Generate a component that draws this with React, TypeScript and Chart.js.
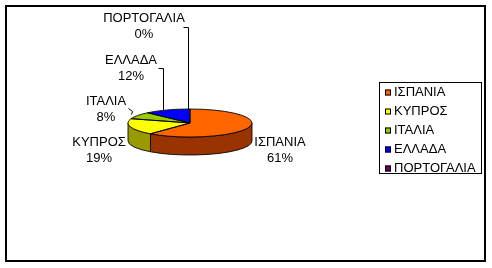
import React, { useEffect, useRef } from 'react';
import { Chart, registerables } from 'chart.js';

Chart.register(...registerables);

// ---- data ----
const categories = ['ΙΣΠΑΝΙΑ', 'ΚΥΠΡΟΣ', 'ΙΤΑΛΙΑ', 'ΕΛΛΑΔΑ', 'ΠΟΡΤΟΓΑΛΙΑ'];
const shares = [61, 19, 8, 12, 0];
const percentLabels = ['61%', '19%', '8%', '12%', '0%'];

// ---- styles ----
const topColors = ['#FF6600', '#FFFF00', '#99CC00', '#0000FF', '#660066'];
const sideColors = ['#993300', '#999900', '#5C7A00', '#000099', '#3D003D'];
const FONT = '13px "Liberation Sans", Arial, sans-serif';
const TILT = 14 / 62;
const DEPTH = 18;

// label placement relative to pie centre (first line centre)
const labelOffsets = [
  { dx: 90, dy: 19 },
  { dx: -91, dy: 19 },
  { dx: -84, dy: -22 },
  { dx: -59, dy: -63 },
  { dx: -46, dy: -105 },
];
// leader lines relative to pie centre
const leaderLines: Array<Array<[number, number]>> = [
  [],
  [],
  [[-62, -15], [-58, -12], [-59, -9]],
  [[-32, -55], [-27, -55], [-27, -13]],
  [[-7, -96], [-2, -96], [-2, -14]],
];

const pie3d = {
  id: 'pie3d',
  beforeDatasetsDraw(chart: any) {
    const ctx = chart.ctx;
    const arcs = chart.getDatasetMeta(0).data as any[];
    if (!arcs.length) return;
    const cx = arcs[0].x, cy = arcs[0].y, rx = arcs[0].outerRadius, ry = rx * TILT;
    ctx.save();
    arcs.forEach((arc: any, i: number) => {
      const a1 = Math.max(arc.startAngle, 0);
      const a2 = Math.min(arc.endAngle, Math.PI);
      if (a2 <= a1) return;
      ctx.beginPath();
      ctx.ellipse(cx, cy, rx, ry, 0, a1, a2, false);
      ctx.ellipse(cx, cy + DEPTH, rx, ry, 0, a2, a1, true);
      ctx.closePath();
      ctx.fillStyle = sideColors[i];
      ctx.fill();
      ctx.strokeStyle = 'rgba(0,0,0,0.85)';
      ctx.lineWidth = 1;
      ctx.stroke();
    });
    ctx.restore();
    ctx.save();
    ctx.translate(cx, cy);
    ctx.scale(1, TILT);
    ctx.translate(-cx, -cy);
  },
  afterDatasetsDraw(chart: any) {
    const ctx = chart.ctx;
    ctx.restore();
    const arcs = chart.getDatasetMeta(0).data as any[];
    if (!arcs.length) return;
    const cx = arcs[0].x, cy = arcs[0].y, rx = arcs[0].outerRadius, ry = rx * TILT;
    ctx.save();
    ctx.strokeStyle = 'rgba(0,0,0,0.85)';
    ctx.lineWidth = 1;
    arcs.forEach((arc: any) => {
      if (arc.endAngle - arc.startAngle <= 0) return;
      ctx.beginPath();
      ctx.moveTo(cx, cy);
      ctx.ellipse(cx, cy, rx, ry, 0, arc.startAngle, arc.endAngle, false);
      ctx.closePath();
      ctx.stroke();
    });
    ctx.restore();
  },
  afterDraw(chart: any) {
    const ctx = chart.ctx;
    const arcs = chart.getDatasetMeta(0).data as any[];
    const cx = arcs[0].x, cy = arcs[0].y;
    ctx.save();
    // outer frame
    ctx.strokeStyle = '#000';
    ctx.lineWidth = 2;
    ctx.strokeRect(6, 6, 479, 255);

    // data labels
    ctx.font = FONT;
    ctx.fillStyle = '#000';
    ctx.textAlign = 'center';
    ctx.textBaseline = 'middle';
    categories.forEach((c, i) => {
      const o = labelOffsets[i];
      ctx.fillText(c, cx + o.dx, cy + o.dy);
      ctx.fillText(percentLabels[i], cx + o.dx, cy + o.dy + 16);
    });
    ctx.lineWidth = 1;
    leaderLines.forEach((pts) => {
      if (!pts.length) return;
      ctx.beginPath();
      pts.forEach(([dx, dy], k) => {
        const x = Math.round(cx + dx) + 0.5, y = Math.round(cy + dy) + 0.5;
        if (k === 0) ctx.moveTo(x, y); else ctx.lineTo(x, y);
      });
      ctx.stroke();
    });

    // legend
    ctx.strokeRect(379.5, 82.5, 102, 91);
    ctx.textAlign = 'left';
    categories.forEach((c, i) => {
      const y = 92.5 + i * 19;
      ctx.fillStyle = topColors[i];
      ctx.fillRect(385, y - 3, 6, 6);
      ctx.strokeStyle = '#000';
      ctx.strokeRect(385.5, y - 2.5, 5, 5);
      ctx.fillStyle = '#000';
      ctx.fillText(c, 394, y);
    });
    ctx.restore();
  },
};

export default function App() {
  const ref = useRef<HTMLCanvasElement>(null);
  useEffect(() => {
    if (!ref.current) return;
    const chart = new Chart(ref.current, {
      type: 'pie',
      data: {
        labels: categories,
        datasets: [
          {
            data: shares,
            backgroundColor: topColors,
            borderWidth: 0,
            hoverOffset: 0,
            offset: 0,
            radius: 62,
            clip: false as any,
          } as any,
        ],
      },
      options: {
        responsive: false,
        animation: false,
        devicePixelRatio: 1,
        events: [],
        layout: { padding: { left: 128, right: 240, top: 61, bottom: 83 } },
        plugins: { legend: { display: false }, tooltip: { enabled: false } },
      },
      plugins: [pie3d],
    });
    return () => chart.destroy();
  }, []);
  return (
    <div style={{ position: 'absolute', left: 0, top: 0, width: 492, height: 268, background: '#fff' }}>
      <canvas ref={ref} width={492} height={268} style={{ width: 492, height: 268, display: 'block' }} />
    </div>
  );
}
